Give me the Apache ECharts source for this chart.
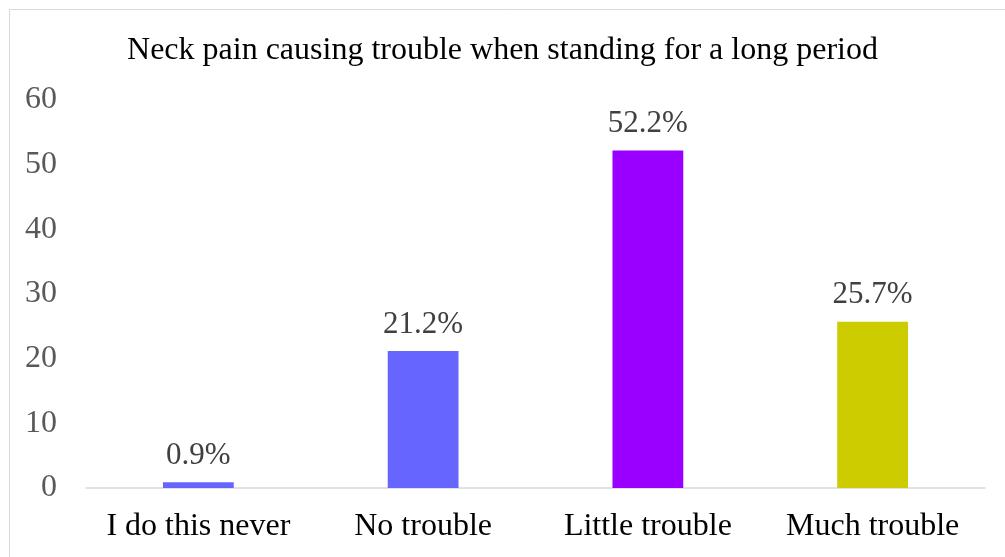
<!DOCTYPE html>
<html><head><meta charset="utf-8">
<script src="https://cdn.jsdelivr.net/npm/echarts@6/dist/echarts.min.js"></script>
<style>html,body{margin:0;padding:0;background:#fff}#c{width:1005px;height:557px}</style>
</head><body><div id="c"></div>
<script>
const categories = ["I do this never", "No trouble", "Little trouble", "Much trouble"];
const values = [0.9, 21.2, 52.2, 25.7];
const barColors = ["#6666FF", "#6666FF", "#9900FF", "#CCCC00"];
const yTicks = [0, 10, 20, 30, 40, 50, 60];
const titleText = "Neck pain causing trouble when standing for a long period";

const chart = echarts.init(document.getElementById('c'), null, {renderer: 'canvas'});
const serif = '"Liberation Serif", "Times New Roman", serif';
chart.setOption({
  animation: false,
  backgroundColor: '#fff',
  graphic: [{type: 'rect', shape: {x: 9.5, y: 9.5, width: 1010, height: 560}, style: {fill: null, stroke: '#d9d9d9', lineWidth: 1}, silent: true}],
  title: {text: titleText, left: 'center', top: 30, textStyle: {fontFamily: serif, fontSize: 32, fontWeight: 'normal', color: '#000'}},
  grid: {left: 86, right: 20, top: 100, bottom: 69, containLabel: false},
  xAxis: {
    type: 'category', data: categories,
    axisLine: {lineStyle: {color: '#d9d9d9', width: 1.5}},
    axisTick: {show: false},
    axisLabel: {interval: 0, hideOverlap: false, fontFamily: serif, fontSize: 32, color: '#000', margin: 23}
  },
  yAxis: {
    type: 'value', min: yTicks[0], max: yTicks[yTicks.length - 1], interval: 10,
    axisLine: {show: false}, axisTick: {show: false}, splitLine: {show: false},
    axisLabel: {fontFamily: serif, fontSize: 32, color: '#595959', margin: 29}
  },
  series: [{
    type: 'bar', barWidth: '31.5%',
    data: values.map((v, i) => ({value: v, itemStyle: {color: barColors[i]}})),
    label: {show: true, position: 'top', distance: 11, formatter: p => p.value.toFixed(1) + '%', fontFamily: serif, fontSize: 31, color: '#404040'}
  }]
});
</script></body></html>
